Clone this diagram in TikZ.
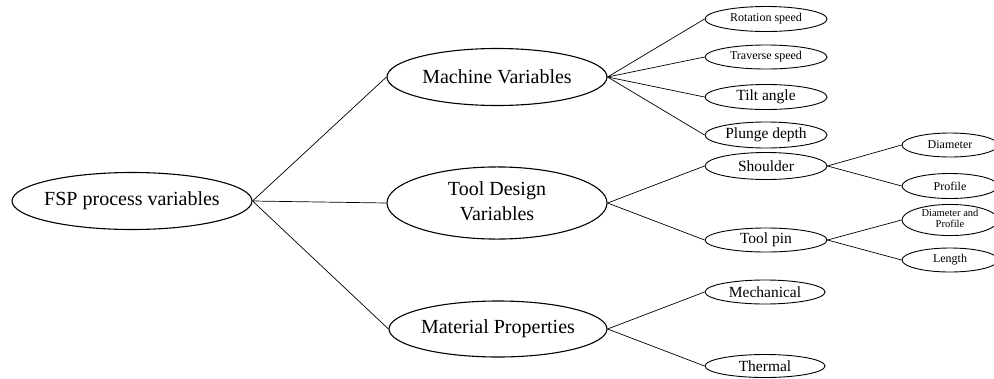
\documentclass[tikz,border=0pt]{standalone}
\usepackage{fontspec}
\setmainfont{Liberation Serif}
\usetikzlibrary{shapes.geometric}
\newcommand\zw[1]{\makebox[0pt]{#1}}
\begin{document}
\begin{tikzpicture}[x=1pt,y=-1pt,
  ell/.style={ellipse,draw,inner sep=0pt,line width=1.1pt},
  big/.style={ell,font=\fontsize{20}{26}\selectfont},
  mid/.style={ell,line width=0.9pt,minimum width=122pt,font=\fontsize{15.5}{18}\selectfont},
  sml/.style={ell,line width=0.9pt,minimum width=122pt,font=\fontsize{12}{14}\selectfont},
  leaf/.style={ell,line width=0.9pt,minimum width=96pt,font=\fontsize{12}{14}\selectfont},
  link/.style={draw,line width=0.7pt}]
\useasboundingbox (0,0) rectangle (994,378);
\clip (0,0) rectangle (994,378);
% root and first level
\node[big,minimum width=240pt,minimum height=57pt] (fsp) at (132,201) {\zw{FSP process variables}};
\node[big,minimum width=220pt,minimum height=57pt] (mv) at (497,77) {\zw{Machine Variables}};
\node[big,minimum width=220pt,minimum height=58pt] (td) at (497,203)
  {\zw{\begin{tabular}{@{}c@{}}Tool Design\\[-1pt]Variables\end{tabular}}};
\node[big,minimum width=218pt,minimum height=56pt] (mp) at (498,329) {\zw{Material Properties}};
% machine variables
\node[sml,minimum height=25pt] (rs) at (766,19) {\zw{Rotation speed}};
\node[sml,minimum height=24pt] (ts) at (766,57) {\zw{Traverse speed}};
\node[mid,minimum height=25pt] (ta) at (766,97) {\zw{Tilt angle}};
\node[mid,minimum height=26pt] (pd) at (766,135) {\zw{Plunge depth}};
% tool design
\node[mid,minimum height=27pt] (sh) at (766,166) {\zw{Shoulder}};
\node[mid,minimum height=24pt] (tp) at (766,240) {\zw{Tool pin}};
\node[leaf,minimum height=24pt] (dia) at (950,145) {\zw{Diameter}};
\node[leaf,minimum height=25pt] (prof) at (950,186) {\zw{Profile}};
\node[leaf,minimum height=24pt,font=\fontsize{10.5}{11}\selectfont] (dap) at (950,220)
  {\zw{\begin{tabular}{@{}c@{}}Diameter and\\Profile\end{tabular}}};
\node[leaf,minimum height=24pt] (len) at (950,260) {\zw{Length}};
% material properties
\node[mid,minimum width=120pt,minimum height=24pt] (mech) at (765,292) {\zw{Mechanical}};
\node[mid,minimum width=120pt,minimum height=23pt] (th) at (765,366) {\zw{Thermal}};
% connectors
\foreach \a/\b in {fsp/mv,fsp/td,fsp/mp,mv/rs,mv/ts,mv/ta,mv/pd,td/sh,td/tp,
                   sh/dia,sh/prof,tp/dap,tp/len,mp/mech,mp/th}
  \path[link] (\a.east) -- (\b.west);
\end{tikzpicture}
\end{document}
